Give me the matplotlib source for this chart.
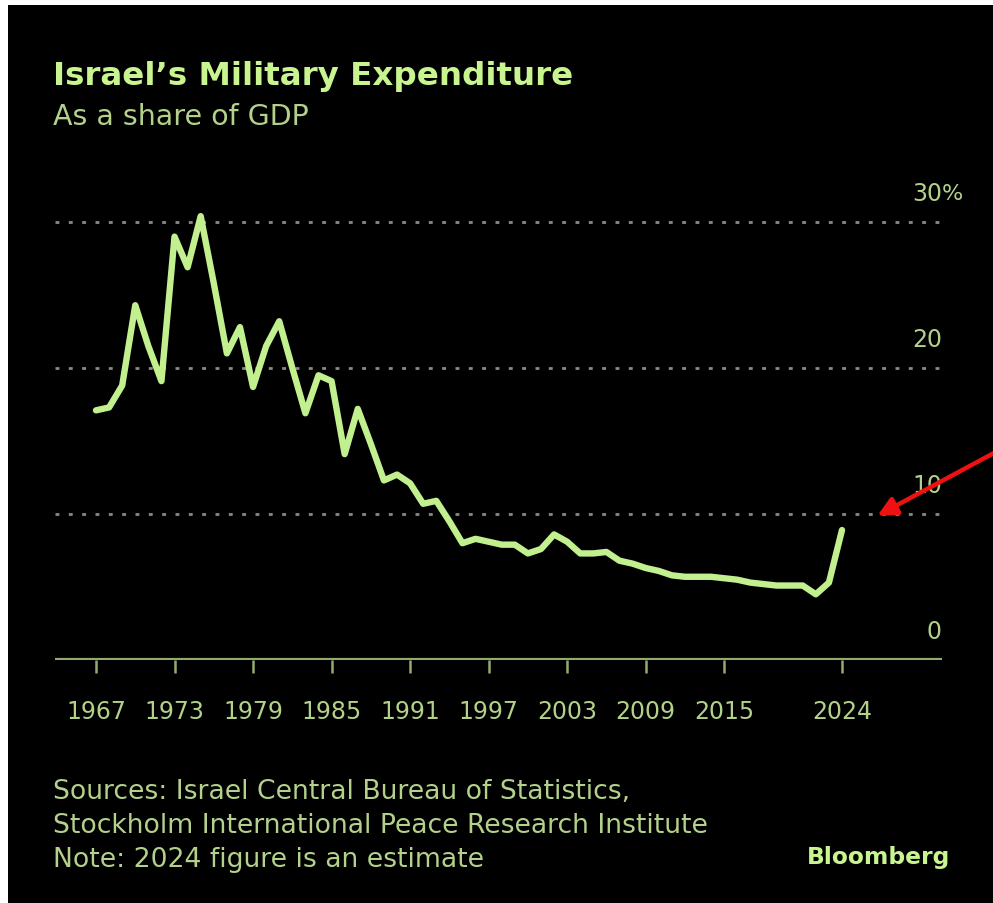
import matplotlib
matplotlib.use("Agg")
import matplotlib.pyplot as plt
from matplotlib import font_manager, transforms
from matplotlib.patches import Rectangle, FancyArrowPatch

# Israel military expenditure, % of GDP
years = list(range(1967, 2025))
share = [17.1, 17.3, 18.8, 24.3, 21.5, 19.1, 29.0, 26.9, 30.4, 25.8,
         21.0, 22.8, 18.7, 21.5, 23.2, 20.0, 16.9, 19.5, 19.1, 14.1,
         17.2, 14.8, 12.3, 12.7, 12.1, 10.7, 10.9, 9.5, 8.0, 8.3,
         8.1, 7.9, 7.9, 7.3, 7.6, 8.6, 8.1, 7.3, 7.3, 7.4,
         6.8, 6.6, 6.3, 6.1, 5.8, 5.7, 5.7, 5.7, 5.6, 5.5,
         5.3, 5.2, 5.1, 5.1, 5.1, 4.5, 5.3, 8.9]
xtick_years = [1967, 1973, 1979, 1985, 1991, 1997, 2003, 2009, 2015, 2024]
ytick_vals = [0, 10, 20, 30]
ytick_labels = ["0", "10", "20", "30"]

title = "Israel\u2019s Military Expenditure"
subtitle = "As a share of GDP"
notes = ["Sources: Israel Central Bureau of Statistics,",
         "Stockholm International Peace Research Institute",
         "Note: 2024 figure is an estimate"]

plt.rcParams["font.family"] = ["DejaVu Sans"]

W, H = 993, 904
fig = plt.figure(figsize=(W / 100, H / 100), dpi=100, facecolor="white")

# dark panel
fig.add_artist(Rectangle((8 / W, 0), 1, 1 - 6 / H, transform=fig.transFigure,
                         facecolor="black", edgecolor="none", zorder=0))

LINE = "#c3f08e"
TITLE_C = "#c8f590"
TEXT_C = "#b3d18a"
AXIS_C = "#93ab6c"
GRID_C = "#8a8a80"

left_px, right_px = 55, 942
bottom_px, top_px = 661, 200
ax = fig.add_axes([left_px / W, 1 - bottom_px / H,
                   (right_px - left_px) / W, (bottom_px - top_px) / H])
ax.set_facecolor("none")
ppy = (842 - 96) / 57.0
ax.set_xlim(1967 - (96 - left_px) / ppy, 2024 + (right_px - 842) / ppy)
ax.set_ylim(0, (bottom_px - top_px) / 14.6)

for v in ytick_vals[1:]:
    ax.axhline(v, color=GRID_C, lw=2, ls=(0, (1.4, 3.4)), zorder=1)
ax.axhline(0, color=AXIS_C, lw=3, zorder=2, solid_capstyle="butt")

ax.plot(years, share, color=LINE, lw=4.6, solid_joinstyle="round",
        solid_capstyle="round", zorder=3)

for s in ax.spines.values():
    s.set_visible(False)
ax.set_yticks([])
ax.set_xticks(xtick_years)
ax.set_xticklabels([str(y) for y in xtick_years])
ax.tick_params(axis="x", direction="out", length=9, width=1.8, color=AXIS_C,
               labelcolor=TEXT_C, labelsize=17, pad=19)

# value labels sitting above each gridline at the right edge
xr = ax.get_xlim()[1]
lab_tr = transforms.offset_copy(ax.transData, fig=fig, x=0, y=29, units="dots")
for v, lab in zip(ytick_vals, ytick_labels):
    ax.text(xr, v, lab, transform=lab_tr, ha="right", va="center",
            color=TEXT_C, fontsize=17)
ax.text(xr, 30, "%", transform=lab_tr, ha="left", va="center",
        color=TEXT_C, fontsize=16)

fig.text(53 / W, 1 - 76 / H, title, color=TITLE_C, fontsize=23.4,
         fontweight="bold", ha="left", va="center")
fig.text(53 / W, 1 - 117 / H, subtitle, color=TEXT_C, fontsize=20.5,
         ha="left", va="center")
for i, line in enumerate(notes):
    fig.text(53 / W, 1 - (792 + 34 * i) / H, line, color=TEXT_C, fontsize=19.2,
             ha="left", va="center")
fig.text(950 / W, 1 - 858 / H, "Bloomberg", color=TITLE_C, fontsize=16.8,
         fontweight="bold", ha="right", va="center")

# red pointer toward the latest value
fig.add_artist(FancyArrowPatch((1005 / W, 1 - 448 / H), (875 / W, 1 - 518 / H),
                               transform=fig.transFigure, arrowstyle="-|>",
                               mutation_scale=28, color="#ee1111", lw=3.2,
                               zorder=10))

fig.savefig("out.png", dpi=100, facecolor="white")
